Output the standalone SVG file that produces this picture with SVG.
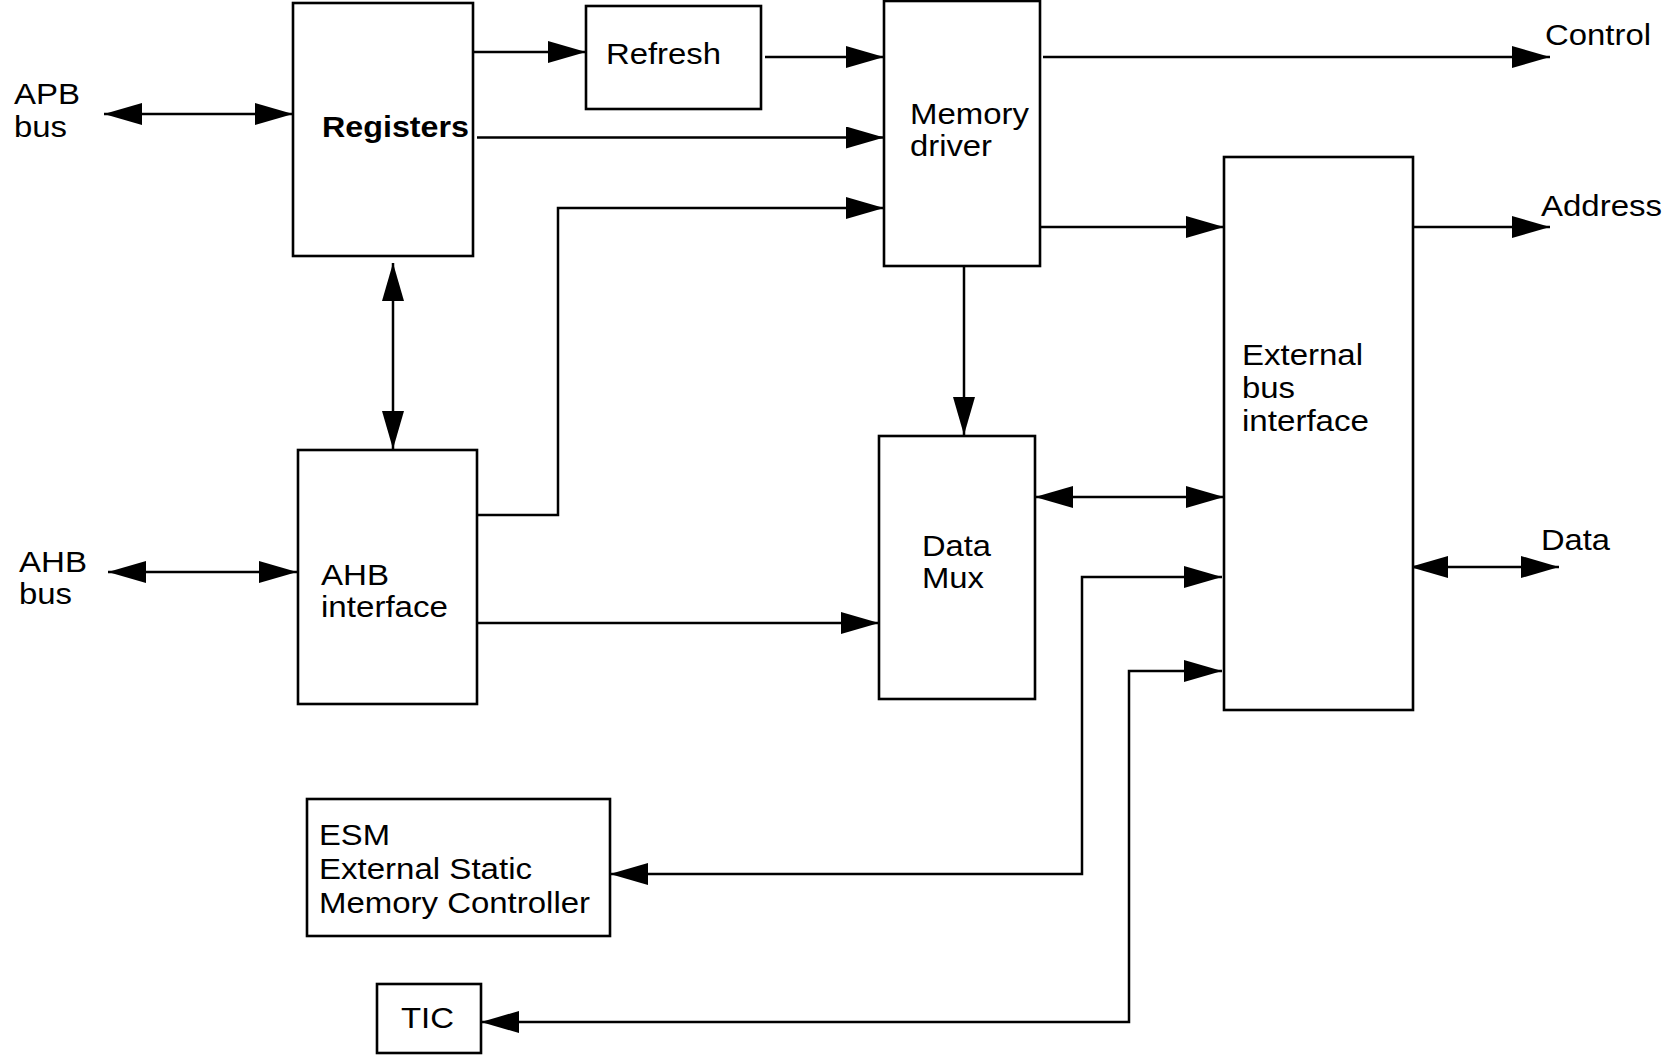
<svg xmlns="http://www.w3.org/2000/svg" width="1677" height="1062" viewBox="0 0 1677 1062">
<defs>
<marker id="ah" markerUnits="userSpaceOnUse" markerWidth="40" markerHeight="24" refX="38" refY="11" orient="auto-start-reverse" viewBox="0 0 40 24">
<path d="M0,0 L38,11 L0,22 z" fill="#000"/>
</marker>
<style>
.box{fill:#fff;stroke:#000;stroke-width:2.6}
.t{font-family:"Liberation Sans",Arial,sans-serif;font-size:29px;fill:#000}
.b{font-weight:bold;font-size:29.5px}
.c{fill:none;stroke:#000;stroke-width:2.5}
.a{marker-end:url(#ah)}
.ab{marker-start:url(#ah);marker-end:url(#ah)}
</style>
</defs>
<rect width="1677" height="1062" fill="#fff"/>

<g id="connectors">
<path class="c ab" d="M104,114 H293"/>
<path class="c a" d="M473,52 H586"/>
<path class="c a" d="M765,57 H884"/>
<path class="c a" d="M477,137.5 H884"/>
<path class="c a" d="M477,515 H558 V208 H884"/>
<path class="c ab" d="M393,263 V449"/>
<path class="c ab" d="M108,572 H297"/>
<path class="c a" d="M477,623 H879"/>
<path class="c a" d="M1043,57 H1550"/>
<path class="c a" d="M1040,227 H1224"/>
<path class="c a" d="M1413,227 H1550"/>
<path class="c a" d="M964,266 V435"/>
<path class="c ab" d="M1035,497 H1224"/>
<path class="c ab" d="M1410,567 H1559"/>
<path class="c ab" d="M610,874 H1082 V577 H1222"/>
<path class="c ab" d="M481,1022 H1129 V671 H1222"/>
</g>

<g id="apb-label"><text class="t" x="14" y="104" textLength="66" lengthAdjust="spacingAndGlyphs">APB</text><text class="t" x="14" y="137" textLength="53" lengthAdjust="spacingAndGlyphs">bus</text></g>
<g id="ahb-label"><text class="t" x="19" y="572" textLength="68" lengthAdjust="spacingAndGlyphs">AHB</text><text class="t" x="19" y="604" textLength="53" lengthAdjust="spacingAndGlyphs">bus</text></g>
<g id="control-label"><text class="t" x="1545" y="45" textLength="106" lengthAdjust="spacingAndGlyphs">Control</text></g>
<g id="address-label"><text class="t" x="1541" y="216" textLength="121" lengthAdjust="spacingAndGlyphs">Address</text></g>
<g id="data-label"><text class="t" x="1541" y="550" textLength="69" lengthAdjust="spacingAndGlyphs">Data</text></g>

<g id="registers"><rect class="box" x="293" y="3" width="180" height="253"/><text class="t b" x="322" y="137" textLength="147" lengthAdjust="spacingAndGlyphs">Registers</text></g>
<g id="refresh"><rect class="box" x="586" y="6" width="175" height="103"/><text class="t" x="606" y="64" textLength="115" lengthAdjust="spacingAndGlyphs">Refresh</text></g>
<g id="memory-driver"><rect class="box" x="884" y="1" width="156" height="265"/><text class="t" x="910" y="124" textLength="119" lengthAdjust="spacingAndGlyphs">Memory</text><text class="t" x="910" y="156" textLength="82" lengthAdjust="spacingAndGlyphs">driver</text></g>
<g id="ahb-interface"><rect class="box" x="298" y="450" width="179" height="254"/><text class="t" x="321" y="585" textLength="68" lengthAdjust="spacingAndGlyphs">AHB</text><text class="t" x="321" y="617" textLength="127" lengthAdjust="spacingAndGlyphs">interface</text></g>
<g id="data-mux"><rect class="box" x="879" y="436" width="156" height="263"/><text class="t" x="922" y="556" textLength="69" lengthAdjust="spacingAndGlyphs">Data</text><text class="t" x="922" y="588" textLength="62" lengthAdjust="spacingAndGlyphs">Mux</text></g>
<g id="external-bus-interface"><rect class="box" x="1224" y="157" width="189" height="553"/><text class="t" x="1242" y="365" textLength="121" lengthAdjust="spacingAndGlyphs">External</text><text class="t" x="1242" y="398" textLength="53" lengthAdjust="spacingAndGlyphs">bus</text><text class="t" x="1242" y="431" textLength="127" lengthAdjust="spacingAndGlyphs">interface</text></g>
<g id="esm"><rect class="box" x="307" y="799" width="303" height="137"/><text class="t" x="319" y="845" textLength="71" lengthAdjust="spacingAndGlyphs">ESM</text><text class="t" x="319" y="879" textLength="213" lengthAdjust="spacingAndGlyphs">External Static</text><text class="t" x="319" y="913" textLength="271" lengthAdjust="spacingAndGlyphs">Memory Controller</text></g>
<g id="tic"><rect class="box" x="377" y="984" width="104" height="69"/><text class="t" x="401" y="1028" textLength="53" lengthAdjust="spacingAndGlyphs">TIC</text></g>
</svg>
